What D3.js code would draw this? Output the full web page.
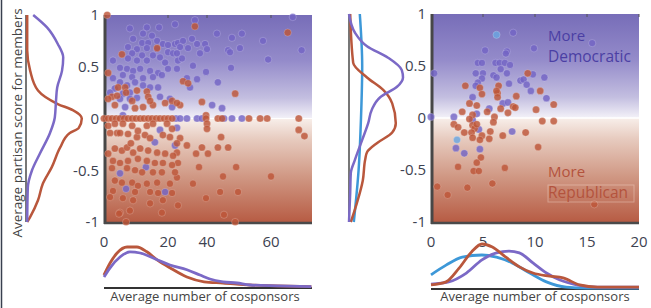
<!DOCTYPE html>
<html>
<head>
<meta charset="utf-8">
<script src="https://cdn.jsdelivr.net/npm/d3@7"></script>
<style>
body { margin: 0; background: #fff; }
svg { display: block; font-family: "Open Sans", sans-serif; }
</style>
</head>
<body>
<svg width="651" height="308"></svg>
<script>
var yTicks = [1, 0.5, 0, -0.5, -1];
var leftXTicks = [0, 20, 40, 60];
var rightXTicks = [0, 5, 10, 15, 20];

// left panel: [cosponsors, partisan score]
var leftDem = [[13.4,0.88],[17.2,0.88],[23.6,0.91],[12.2,0.82],[15,0.80],[9.1,0.77],[11.9,0.73],[13.8,0.73],[16.6,0.75],[18.4,0.72],[20,0.71],[23.6,0.72],[25.1,0.73],[7.5,0.69],[10.3,0.67],[13.4,0.68],[16.6,0.67],[20,0.64],[8.8,0.63],[11.9,0.61],[15.3,0.61],[17.5,0.59],[22.6,0.63],[7.5,0.58],[10.3,0.56],[13.4,0.56],[19.1,0.54],[25.1,0.56],[2.8,0.56],[5,0.49],[7.2,0.48],[9.1,0.46],[11.3,0.48],[14.4,0.46],[16.9,0.44],[20,0.48],[5.9,0.42],[8.8,0.40],[12.2,0.39],[15.3,0.40],[18.1,0.42],[2.8,0.39],[5,0.35],[7.2,0.32],[9.7,0.35],[12.2,0.32],[14.4,0.30],[16.9,0.30],[3.4,0.29],[1.9,0.25],[5.9,0.24],[8.1,0.25],[10.3,0.20],[8.1,0.19],[5,0.19],[17.5,0.21],[6.6,0.11],[22.1,0.11],[8.1,0.87],[21,0.19],
  [33.8,0.95],[66.9,0.98],[43.1,0.82],[47.8,0.78],[50.9,0.82],[57.5,0.75],[69.7,0.66],[27.7,0.75],[32.3,0.77],[34.9,0.72],[39,0.72],[40,0.67],[30.3,0.68],[26.2,0.69],[24.6,0.63],[27.2,0.58],[36.4,0.63],[46.6,0.66],[47.2,0.64],[50.3,0.68],[59.1,0.57],[32.8,0.51],[24.6,0.48],[39.5,0.45],[47.5,0.49],[29.7,0.39],[34.9,0.38],[31.3,0.30],[43.4,0.35],[41.6,0.13],[44.7,0.10],
  [24.1,0],[26.2,0],[29.7,0],[34.9,0],[37.4,0],[45.3,0],[47.8,0],[50.9,0],
  [5.9,0.03],[17.5,-0.11],[23.6,-0.26],[15.9,-0.23],[13.1,-0.47],[5,-0.53],[6.9,-0.68],[19.1,-0.71],[24.6,-0.09]];

var leftRep = [[1,1.0],[5.6,0.62],[16.6,0.68],[1.3,0.44],[4.4,0.30],[6.6,0.30],[10.3,0.27],[13.4,0.26],[2.5,0.21],[4.1,0.22],[1.3,0.19],[13.8,0.21],[19.1,0.15],[22.1,0.17],[3.4,0.13],[9.7,0.10],[12.2,0.11],[15.3,0.13],[26.2,0.13],[6.9,0.25],[14.4,0.17],[8.8,0.17],
  [33.8,0.89],[65.3,0.83],[27.7,0.36],[30.3,0.34],[48.8,0.24],[37.4,0.16],[24.6,0.15],[39.5,0.03],
  [0,0],[1.3,0],[2.5,0],[3.8,0],[5,0],[6.3,0],[7.5,0],[8.8,0],[10,0],[11.3,0],[12.5,0],[13.8,0],[15,0],[16.3,0],[17.5,0],[18.8,0],[20,0],[22.1,0],[39.5,0],[43.4,0],[44.7,0],[53.1,0],[56.6,0],[58.8,0],[68.8,0],
  [40,-0.05],[40,-0.10],[26.2,-0.19],[24.6,-0.24],[29.7,-0.26],[37.4,-0.28],[44.4,-0.18],[43.4,-0.28],[46.6,-0.28],[34.4,-0.34],[40.3,-0.34],[24.6,-0.33],[25.1,-0.43],[35.9,-0.47],[49.1,-0.47],[24.6,-0.57],[45,-0.56],[60,-0.56],[32.8,-0.63],[44.1,-0.71],[49.7,-0.71],[39.5,-0.77],[25.1,-0.84],[45.3,-0.93],[48.8,-1.0],[68.8,-0.11],[70.6,-0.17],
  [1.3,-0.07],[3.4,-0.05],[5.9,-0.05],[8.8,-0.07],[13.4,-0.07],[15.3,-0.05],[19.7,-0.05],[22.1,-0.10],[1.9,-0.14],[4.1,-0.14],[7.5,-0.15],[10.3,-0.18],[12.8,-0.16],[14.4,-0.19],[18.4,-0.16],[21,-0.18],[1.3,-0.34],[3.4,-0.29],[5.6,-0.31],[7.2,-0.28],[9.1,-0.33],[11.3,-0.29],[13.8,-0.31],[16.6,-0.33],[19.1,-0.34],[22.6,-0.36],[2.8,-0.41],[5,-0.43],[7.5,-0.41],[10.6,-0.39],[13.4,-0.41],[15.9,-0.43],[18.4,-0.43],[22.1,-0.45],[2.5,-0.48],[7.2,-0.48],[9.7,-0.50],[11.9,-0.52],[15.3,-0.52],[18.1,-0.52],[23.6,-0.52],[3.4,-0.60],[5.6,-0.62],[8.8,-0.62],[10.6,-0.65],[13.4,-0.63],[16.6,-0.62],[21,-0.63],[2.8,-0.70],[9.7,-0.71],[14.4,-0.71],[16.9,-0.72],[22.1,-0.72],[5.9,-0.77],[9.1,-0.79],[14.4,-0.82],[5,-0.91],[8.1,-0.89],[18.1,-0.91],[6.9,-1.0],[18.4,-0.79],[1.9,-0.76],[4.7,-0.92],[10.6,-0.12],[8.4,-0.24],[5,-0.14]];

// right panel
var rightDem = [[7.9,0.82],[15.5,0.72],[9.9,0.67],[5.2,0.65],[7.3,0.64],[7.2,0.62],[4.5,0.53],[4.9,0.53],[6.2,0.53],[6.6,0.53],[7.1,0.53],[7.6,0.51],[6.7,0.47],[4.3,0.43],[5.0,0.43],[6.0,0.41],[6.3,0.39],[7.3,0.43],[9.8,0.42],[10.9,0.39],[0.3,0.43],[4.9,0.38],[4.5,0.34],[4.3,0.31],[8.6,0.36],[8.9,0.37],[9.2,0.32],[7.5,0.33],[9.6,0.26],[11.1,0.19],[4.0,0.20],[6.9,0.14],[7.4,0.15],[5.6,0.09],[4.4,0.04],[2.2,0.01],[0,0.01],[7.8,-0.13],[4.6,-0.11],[4.0,-0.02],[2.4,-0.29],[3.2,-0.34],[4.7,-0.30]];
var rightRep = [[9.3,0.43],[3.3,0.31],[4.7,0.29],[4.9,0.23],[6.4,0.24],[6.5,0.31],[6.3,0.26],[8.2,0.21],[6.4,0.20],[10.5,0.26],[11.8,0.13],[10.1,0.08],[10.7,-0.03],[11.8,-0.03],[3.0,0.06],[3.7,0.14],[4.4,0.12],[5.4,0.06],[6.7,0.09],[7.4,0.05],[7.9,0.11],[8.1,0.10],[6.1,0.01],[6.0,-0.04],[4.0,0.03],[3.7,-0.01],[2.2,-0.06],[2.6,-0.09],[4.0,-0.07],[4.2,-0.10],[4.4,-0.06],[3.2,-0.14],[3.9,-0.14],[4.0,-0.19],[4.9,-0.17],[5.7,-0.13],[5.6,-0.20],[6.9,-0.17],[9.1,-0.14],[10.3,-0.28],[4.7,-0.21],[4.8,-0.38],[4.4,-0.43],[2.6,-0.47],[4.1,-0.51],[4.6,-0.51],[7.1,-0.48],[5.9,-0.63],[3.5,-0.67],[0.6,-0.66],[1.6,-0.74],[15.7,-0.83]];
var rightInd = [[6.3,0.80],[2.5,-0.21]];

// side densities: [partisan score, density]
var leftDemDensY = [[1,0.12],[0.88,0.35],[0.72,0.53],[0.59,0.62],[0.46,0.60],[0.30,0.52],[0.17,0.50],[0.01,0.48],[-0.14,0.40],[-0.34,0.23],[-0.50,0.10],[-0.67,0.03],[-1,0.02]];
var leftRepDensY = [[1,0.02],[0.66,0.02],[0.46,0.07],[0.27,0.20],[0.14,0.53],[0.08,0.78],[0,0.93],[-0.09,0.88],[-0.14,0.73],[-0.28,0.57],[-0.47,0.43],[-0.63,0.28],[-0.79,0.20],[-0.95,0.07],[-1,0.02]];
var rightDemDensY = [[1,0],[0.82,0.10],[0.69,0.30],[0.58,0.65],[0.46,0.88],[0.39,0.90],[0.30,0.80],[0.20,0.52],[0.08,0.38],[-0.05,0.32],[-0.21,0.22],[-0.40,0.10],[-0.53,0.03],[-0.72,0.02],[-1,0]];
var rightRepDensY = [[1,0.02],[0.53,0.07],[0.39,0.30],[0.27,0.57],[0.14,0.72],[-0.05,0.78],[-0.14,0.72],[-0.24,0.47],[-0.33,0.30],[-0.40,0.27],[-0.60,0.23],[-0.82,0.13],[-1,0.03]];
var rightIndDensY = [[1,0.18],[0.5,0.22],[0,0.20],[-0.5,0.16],[-1,0.08]];

// bottom densities: [cosponsors, density]
var leftDemDensX = [[0,0.25],[1.9,0.48],[5,0.75],[8.1,0.88],[11.3,0.85],[16.6,0.68],[21,0.55],[29.7,0.43],[36.4,0.30],[40.9,0.20],[45,0.13],[49.4,0.10],[53.4,0.05],[61.9,0.03],[72.8,0.01]];
var leftRepDensX = [[0,0.30],[1.9,0.60],[4.1,0.85],[7.2,1.0],[10.3,1.0],[13.4,0.88],[16.6,0.68],[21,0.48],[29.7,0.25],[38.5,0.13],[45,0.10],[53.4,0.05],[61.9,0.03],[72.8,0.01]];
var rightDemDensX = [[0,0.09],[1.7,0.14],[3.4,0.34],[4.9,0.64],[6.3,0.80],[7.5,0.84],[8.5,0.80],[9.8,0.57],[11.1,0.34],[12.4,0.18],[14.0,0.07],[16.0,0.02],[20,0.02]];
var rightRepDensX = [[0,0.07],[1.45,0.14],[2.7,0.45],[3.9,0.82],[4.9,1.0],[5.9,0.93],[7.2,0.70],[8.5,0.48],[9.8,0.34],[11.4,0.27],[12.7,0.23],[14.3,0.07],[16.0,0.02],[18.2,0.02],[20,0.02]];
var rightIndDensX = [[0,0.30],[1.45,0.52],[3.0,0.70],[4.9,0.75],[6.3,0.70],[7.8,0.57],[9.5,0.34],[11.1,0.14],[13.0,0.02],[15.0,0],[20,0]];

var demColor = "#7364c4", repColor = "#bd5538", indColor = "#6aa6e0";
var demLine = "#7b69c6", repLine = "#b9573c", indLine = "#3d98d8";
var textColor = "#3d4251";

var svg = d3.select("svg");
var defs = svg.append("defs");

var yLeft = d3.scaleLinear().domain([-1, 1]).range([222, 15]);
var xLeft = d3.scaleLinear().domain([0, 20, 40, 60, 73]).range([104, 168, 207, 271, 312]);
var yRight = d3.scaleLinear().domain([-1, 1]).range([222, 14]);
var xRight = d3.scaleLinear().domain([0, 20]).range([431, 639]);

var dLeftSide = d3.scaleLinear().domain([0, 1]).range([26, 86]);
var dRightSide = d3.scaleLinear().domain([0, 1]).range([349, 409]);
var dLeftBottom = d3.scaleLinear().domain([0, 1]).range([287, 247]);
var dRightBottom = d3.scaleLinear().domain([0, 1]).range([288, 244]);

// frame line on the far left
svg.append("line").attr("x1", 1.5).attr("x2", 1.5).attr("y1", 0).attr("y2", 308)
	.attr("stroke", "#39404f").attr("stroke-width", 1.5);

function drawPanel(id, x, y, xTicks, series) {
	var x0 = x.range()[0], x1 = x.range()[x.range().length - 1];
	var grad = defs.append("linearGradient").attr("id", id)
		.attr("gradientUnits", "userSpaceOnUse")
		.attr("x1", 0).attr("x2", 0).attr("y1", y(1)).attr("y2", y(-1));
	var stops = [[0, "#776db8"], [0.22, "#948bca"], [0.40, "#c3bee0"], [0.495, "#f1eff7"], [0.5, "#ffffff"], [0.505, "#f7ede8"], [0.6, "#e7cbbf"], [0.78, "#d09884"], [1, "#b75c44"]];
	grad.selectAll("stop").data(stops).enter().append("stop")
		.attr("offset", function(d) { return d[0]; })
		.attr("stop-color", function(d) { return d[1]; });

	var g = svg.append("g");
	g.append("rect")
		.attr("x", x0).attr("y", y(1))
		.attr("width", x1 - x0).attr("height", y(-1) - y(1))
		.attr("fill", "url(#" + id + ")");
	g.append("line").attr("x1", x0).attr("x2", x1).attr("y1", y(0)).attr("y2", y(0))
		.attr("stroke", "#fff").attr("stroke-width", 1.2);

	// spines
	g.append("line").attr("x1", x0 + 1).attr("x2", x0 + 1).attr("y1", y(1)).attr("y2", y(-1) + 2)
		.attr("stroke", "#474747").attr("stroke-width", 3);
	g.append("line").attr("x1", x0).attr("x2", x1).attr("y1", y(-1) + 1).attr("y2", y(-1) + 1)
		.attr("stroke", "#4a4a4a").attr("stroke-width", 2.5);

	// small ticks along the top
	g.selectAll(".tt").data(xTicks.slice(1)).enter().append("line")
		.attr("x1", function(d) { return x(d); }).attr("x2", function(d) { return x(d); })
		.attr("y1", y(1)).attr("y2", y(1) + 3)
		.attr("stroke", "#555").attr("stroke-width", 1);

	g.selectAll(".ylab").data(yTicks).enter().append("text")
		.attr("x", x0 - 5).attr("y", function(d) { return y(d); })
		.attr("dy", "0.36em").attr("text-anchor", "end")
		.attr("font-size", 15).attr("fill", textColor)
		.text(function(d) { return String(d); });
	g.selectAll(".xlab").data(xTicks).enter().append("text")
		.attr("x", function(d) { return x(d); }).attr("y", y(-1) + 25)
		.attr("text-anchor", "middle")
		.attr("font-size", 15).attr("fill", textColor)
		.text(function(d) { return String(d); });

	series.forEach(function(s) {
		g.selectAll(null).data(s.data).enter().append("circle")
			.attr("cx", function(d) { return x(d[0]); })
			.attr("cy", function(d) { return y(d[1]); })
			.attr("r", 3.6)
			.attr("fill", s.color)
			.attr("fill-opacity", 0.82)
			.attr("stroke", "rgba(255,255,255,0.3)")
			.attr("stroke-width", 0.7);
	});
}

drawPanel("bgL", xLeft, yLeft, leftXTicks, [
	{ data: leftDem, color: demColor },
	{ data: leftRep, color: repColor }
]);
drawPanel("bgR", xRight, yRight, rightXTicks, [
	{ data: rightDem, color: demColor },
	{ data: rightRep, color: repColor },
	{ data: rightInd, color: indColor }
]);

function sideDensity(dScale, y, curves) {
	svg.append("line").attr("x1", dScale(0)).attr("x2", dScale(0))
		.attr("y1", y(1)).attr("y2", y(-1))
		.attr("stroke", "#4a4a4a").attr("stroke-width", 1.5);
	var line = d3.line()
		.x(function(d) { return dScale(d[1]); })
		.y(function(d) { return y(d[0]); })
		.curve(d3.curveMonotoneY);
	curves.forEach(function(c) {
		svg.append("path").datum(c.data.slice().reverse())
			.attr("d", line).attr("fill", "none")
			.attr("stroke", c.color).attr("stroke-width", 2.5);
	});
}

function bottomDensity(x, dScale, curves) {
	var x0 = x.range()[0], x1 = x.range()[x.range().length - 1];
	svg.append("line").attr("x1", x0).attr("x2", x1)
		.attr("y1", dScale(0) + 1).attr("y2", dScale(0) + 1)
		.attr("stroke", "#333").attr("stroke-width", 1.8);
	var line = d3.line()
		.x(function(d) { return x(d[0]); })
		.y(function(d) { return dScale(d[1]); })
		.curve(d3.curveMonotoneX);
	curves.forEach(function(c) {
		svg.append("path").datum(c.data)
			.attr("d", line).attr("fill", "none")
			.attr("stroke", c.color).attr("stroke-width", 2.8);
	});
}

sideDensity(dLeftSide, yLeft, [
	{ data: leftRepDensY, color: repLine },
	{ data: leftDemDensY, color: demLine }
]);
sideDensity(dRightSide, yRight, [
	{ data: rightIndDensY, color: indLine },
	{ data: rightRepDensY, color: repLine },
	{ data: rightDemDensY, color: demLine }
]);
bottomDensity(xLeft, dLeftBottom, [
	{ data: leftRepDensX, color: repLine },
	{ data: leftDemDensX, color: demLine }
]);
bottomDensity(xRight, dRightBottom, [
	{ data: rightIndDensX, color: indLine },
	{ data: rightDemDensX, color: demLine },
	{ data: rightRepDensX, color: repLine }
]);

// titles
svg.append("text")
	.attr("transform", "translate(22,123) rotate(-90)")
	.attr("text-anchor", "middle").attr("font-size", 13.5).attr("fill", "#444")
	.text("Average partisan score for members");
svg.append("text").attr("x", 205).attr("y", 301).attr("text-anchor", "middle")
	.attr("font-size", 13).attr("fill", "#444").text("Average number of cosponsors");
svg.append("text").attr("x", 535).attr("y", 301).attr("text-anchor", "middle")
	.attr("font-size", 13).attr("fill", "#444").text("Average number of cosponsors");

// annotations
svg.append("text").attr("x", 548).attr("y", 41).attr("font-size", 15).attr("fill", "#4b3fa4").text("More");
svg.append("text").attr("x", 548).attr("y", 62).attr("font-size", 15.5).attr("fill", "#4b3fa4").text("Democratic");
svg.append("text").attr("x", 548).attr("y", 177).attr("font-size", 15).attr("fill", "#b4533d").text("More");
svg.append("rect").attr("x", 548).attr("y", 185).attr("width", 86).attr("height", 17)
	.attr("fill", "none").attr("stroke", "rgba(255,235,225,0.35)").attr("stroke-width", 1);
svg.append("text").attr("x", 548).attr("y", 198).attr("font-size", 15.5).attr("fill", "#b4533d").text("Republican");
</script>
</body>
</html>
